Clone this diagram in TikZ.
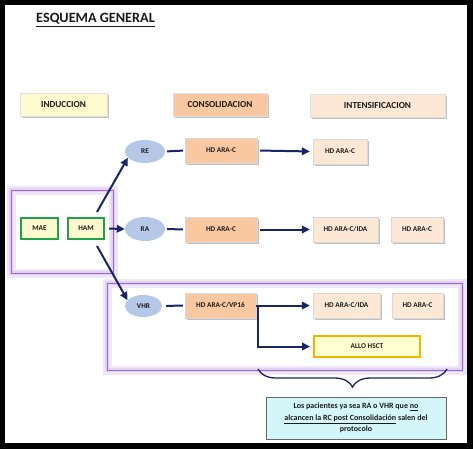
\documentclass[tikz,border=0pt]{standalone}
\usepackage{fontspec}
\setmainfont{Carlito}
\usetikzlibrary{shapes.geometric,arrows.meta,decorations.pathreplacing,shadows,calc}
\definecolor{navy}{HTML}{17256A}
\definecolor{indfill}{HTML}{FFFACD}
\definecolor{consfill}{HTML}{F9C8A0}
\definecolor{intfill}{HTML}{FDE8D6}
\definecolor{ellfill}{HTML}{B5C8E8}
\definecolor{greenb}{HTML}{1FA34A}
\definecolor{gold}{HTML}{F2B400}
\definecolor{allofill}{HTML}{FFFFCF}
\definecolor{purplec}{HTML}{9A68C8}
\definecolor{glowc}{HTML}{DCC8F0}
\definecolor{notefill}{HTML}{D3F6F8}
\definecolor{txt}{HTML}{1A1A1A}
\tikzset{
  shad/.style={drop shadow={shadow xshift=1.6pt, shadow yshift=-1.6pt, fill=black!45, opacity=.55}},
  header/.style={shad, fill=#1, draw=black!12, line width=.3pt, minimum height=23pt, inner sep=1pt,
    font=\fontsize{9.2}{11}\selectfont\bfseries, text=txt},
  hbox/.style={shad, fill=#1, draw=black!15, line width=.3pt, minimum height=25pt, inner sep=1pt,
    font=\fontsize{7.3}{9}\selectfont\bfseries, text=txt},
  gbox/.style={fill=indfill, draw=greenb, line width=2.2pt, minimum height=21pt, inner sep=1pt,
    font=\fontsize{7.3}{9}\selectfont\bfseries, text=txt},
  ell/.style={ellipse, fill=ellfill, inner sep=0pt, font=\fontsize{7.3}{9}\selectfont\bfseries, text=txt},
  conn/.style={draw=navy, line width=2pt},
  arr/.style={conn, -{Triangle[length=8pt,width=7.5pt]}},
  glow1/.style={draw=glowc!45, line width=9pt},
  glow2/.style={draw=glowc!80, line width=4.5pt},
  frame/.style={draw=purplec, line width=1pt},
}
\begin{document}
\begin{tikzpicture}[x=1pt,y=-1pt]
\useasboundingbox (0,0) rectangle (473,449);
\fill[black] (0,0) rectangle (473,449);
\fill[white] (5,5) rectangle (467,443);

% title
\node[font=\fontsize{14.2}{16}\selectfont\bfseries, text=txt] (title) at (95.5,20) {\underline{ESQUEMA GENERAL}};

% headers
\node[header=indfill, minimum width=87pt] (hind) at (63.5,104.5) {INDUCCION};
\node[header=consfill, minimum width=94pt] (hcons) at (220,104.5) {CONSOLIDACION};
\node[header=intfill, minimum width=135pt] (hint) at (377.5,106) {INTENSIFICACION};

% purple frames
\foreach \s in {glow1,glow2,frame}{
  \path[\s] (11,190) rectangle (113,273);
  \path[\s] (107,283) rectangle (462,370);
}

% induction
\node[gbox, minimum width=37pt] (mae) at (39.5,228.5) {MAE};
\node[gbox, minimum width=36pt] (ham) at (86,228.5) {HAM};
\coordinate (hamup) at (97,212);
\coordinate (hamdn) at (97,246);

% responses
\node[ell, minimum width=40pt, minimum height=23pt] (re) at (145,151.5) {RE};
\node[ell, minimum width=40pt, minimum height=24pt] (ra) at (145,229) {RA};
\node[ell, minimum width=37pt, minimum height=22pt] (vhr) at (143.5,306) {VHR};

% consolidation
\node[hbox=consfill, minimum width=72pt] (c1) at (221,150.5) {HD ARA-C};
\node[hbox=consfill, minimum width=72pt] (c2) at (221,229.5) {HD ARA-C};
\node[hbox=consfill, minimum width=71pt] (c3) at (220.5,305.5) {HD ARA-C/VP16};

% intensification
\node[hbox=intfill, minimum width=54pt] (i1) at (340,151.5) {HD ARA-C};
\node[hbox=intfill, minimum width=65pt] (i2) at (345.5,229.5) {HD ARA-C/IDA};
\node[hbox=intfill, minimum width=52pt] (i3) at (417,229.5) {HD ARA-C};
\node[hbox=intfill, minimum width=67pt] (i4) at (346.5,305.5) {HD ARA-C/IDA};
\node[hbox=intfill, minimum width=51pt] (i5) at (417.5,305.5) {HD ARA-C};
\node[fill=allofill, draw=gold, line width=2pt, minimum width=106pt, minimum height=21pt,
  font=\fontsize{7.3}{9}\selectfont\bfseries, text=txt] (allo) at (367,346.5) {ALLO HSCT};

% connectors
\draw[arr] (hamup) -- (re.200);
\draw[arr, shorten <=4pt] (ham.east) -- (ra.west);
\draw[arr] (hamdn) -- (vhr.160);
\draw[conn, shorten <=2pt, shorten >=2pt] (re.east) -- (c1.west);
\draw[conn, shorten <=2pt, shorten >=2pt] (ra.east) -- (c2.west);
\draw[conn, shorten <=4pt, shorten >=2pt] (vhr.east) -- (c3.west);
\draw[arr, shorten <=3pt, shorten >=3pt] (c1.east) -- (i1.west);
\draw[arr, shorten <=3pt, shorten >=3pt] (c2.east) -- (i2.west);
\draw[arr, shorten >=3pt] (c3.east) -- (i4.west);
\coordinate (split) at ($(c3.east)+(2,0)$);
\draw[arr, shorten >=3pt] (split) |- (allo.west);

% brace
\coordinate (bl) at (258,369);
\coordinate (br) at (447,369);
\draw[navy, line width=1.3pt, decorate, decoration={brace, mirror, amplitude=18pt, aspect=.5}] (bl) -- (br);

% note
\node[fill=notefill, draw=black!60, line width=.8pt, minimum width=180pt, minimum height=42pt,
  inner sep=1pt, align=center, font=\fontsize{8}{11.8}\selectfont\bfseries, text=txt] (note) at (356,418)
  {Los pacientes ya sea RA o VHR que \underline{no}\\
   \underline{alcancen la RC post Consolidación} salen del\\
   protocolo};
\end{tikzpicture}
\end{document}
